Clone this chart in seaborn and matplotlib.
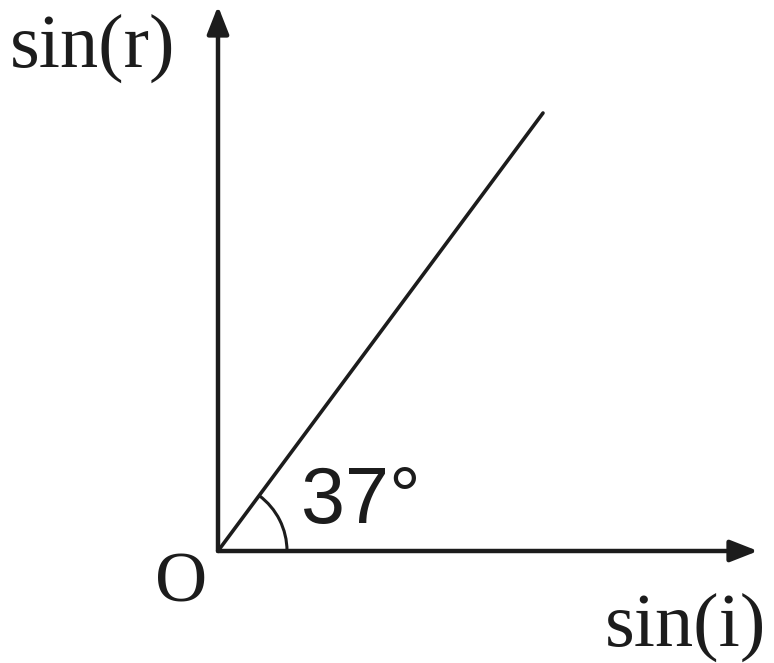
import numpy as np
import matplotlib
matplotlib.use("Agg")
import matplotlib.pyplot as plt
import seaborn as sns
from matplotlib.patches import Arc

sns.set_theme(style="white")

# line through origin (graph units, origin at O)
sin_i = [0, 325]
sin_r = [0, 438]
angle_label = "37°"
x_label = "sin(i)"
y_label = "sin(r)"

fig = plt.figure(figsize=(7.74, 6.63), dpi=100)
ax = fig.add_axes([0, 0, 1, 1])
ax.set_xlim(-218, 556)
ax.set_ylim(-112, 551)
ax.axis("off")

ink = "#1c1c1c"
sns.lineplot(x=sin_i, y=sin_r, ax=ax, color=ink, linewidth=2.6)

# axes with arrows
ax.annotate("", xy=(540, 0), xytext=(0, 0),
            arrowprops=dict(arrowstyle="-|>,head_length=1.4,head_width=0.55",
                            color=ink, lw=3.2, shrinkA=0, shrinkB=0))
ax.annotate("", xy=(0, 545), xytext=(0, 0),
            arrowprops=dict(arrowstyle="-|>,head_length=1.4,head_width=0.55",
                            color=ink, lw=3.2, shrinkA=0, shrinkB=0))

# angle arc
theta = np.degrees(np.arctan2(sin_r[1], sin_i[1]))
ax.add_patch(Arc((0, 0), 138, 138, theta1=0, theta2=theta, color=ink, lw=2.2))

serif = ["Liberation Serif", "DejaVu Serif"]
ax.text(-208, 503, y_label, fontsize=55, family=serif, color=ink, va="center", ha="left")
ax.text(-37, -33, "O", fontsize=52, family=serif, color=ink, va="center", ha="center")
ax.text(548, -76, x_label, fontsize=55, family=serif, color=ink, va="center", ha="right")
ax.text(83, 49, angle_label, fontsize=57, family=["Liberation Sans", "DejaVu Sans"],
        color=ink, va="center", ha="left")

plt.savefig("out.png", dpi=100)
